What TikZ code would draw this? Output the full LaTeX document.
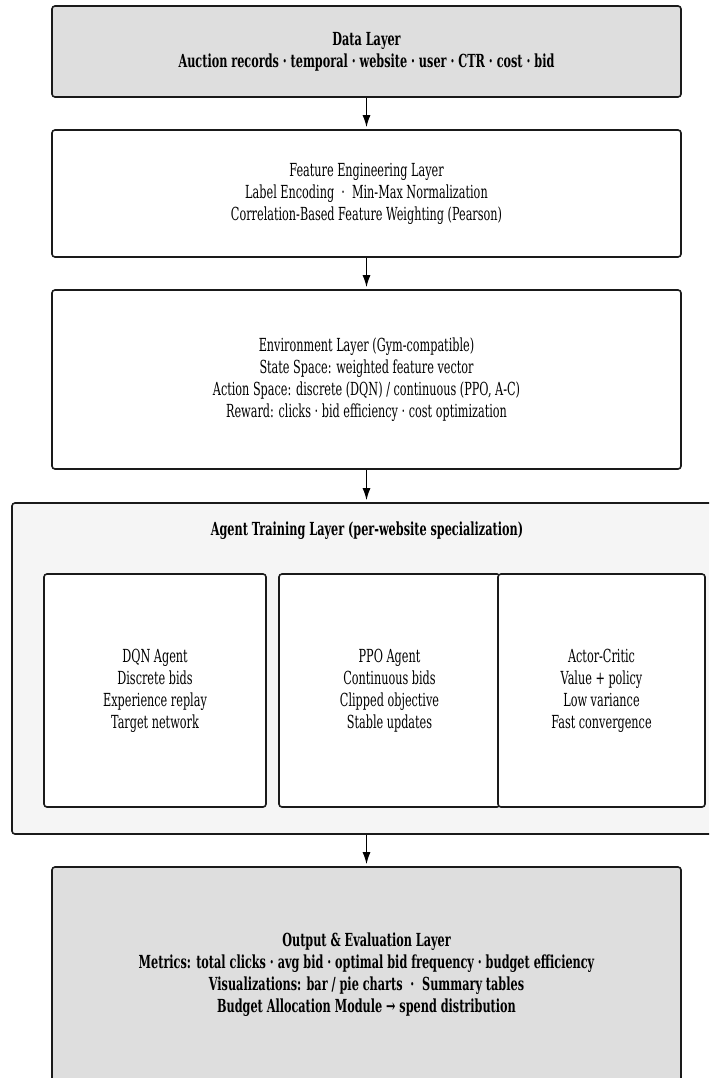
\documentclass[tikz,border=0pt]{standalone}
\usepackage{fontspec}
\setmainfont{DejaVu Serif}[FakeStretch=0.625]
\usepackage{xcolor}
\usepackage{tikz}
\usetikzlibrary{arrows.meta,positioning}
\definecolor{layergray}{HTML}{DEDEDE}
\definecolor{groupgray}{HTML}{F5F5F5}
\definecolor{edgeline}{HTML}{1A1A1A}
\newcommand{\layerfont}{\fontsize{18}{22}\selectfont}
\tikzset{
  lbox/.style={draw=edgeline,fill=white,rounded corners=3pt,line width=1.6pt,align=center,inner sep=0pt,minimum width=629pt},
  lgray/.style={lbox,fill=layergray,font=\layerfont\bfseries},
  lgroup/.style={draw=edgeline,fill=groupgray,rounded corners=3pt,line width=1.6pt,inner sep=0pt},
  abox/.style={draw=edgeline,fill=white,rounded corners=3pt,line width=1.6pt,align=center,inner sep=0pt,minimum height=233pt},
  larr/.style={-{Latex[length=12pt,width=8pt]},line width=1.3pt,draw=black,shorten >=2pt}
}

\begin{document}
\begin{tikzpicture}[x=1pt,y=-1pt,font=\layerfont]
  \useasboundingbox (0,0) rectangle (709,1078);
  \clip (0,0) rectangle (709,1078);
  % layers
  \node[lgray,minimum height=91pt] (data) at (366.5,51.5) {Data Layer\\
    Auction records · temporal · website · user · CTR · cost · bid};
  \node[lbox,minimum height=127pt] (feat) at (366.5,193.5) {Feature Engineering Layer\\
    Label Encoding~~·~~Min-Max Normalization\\
    Correlation-Based Feature Weighting (Pearson)};
  \node[lbox,minimum height=179pt] (env) at (366.5,379.5) {Environment Layer (Gym-compatible)\\
    State Space: weighted feature vector\\
    Action Space: discrete (DQN) / continuous (PPO, A-C)\\
    Reward: clicks · bid efficiency · cost optimization};
  % agent group
  \node[lgroup,minimum width=704pt,minimum height=331pt] (agents) at (364,668.5) {};
  \node[font=\layerfont\bfseries] (agtitle) at (367,531) {Agent Training Layer (per-website specialization)};
  \node[abox,minimum width=222pt] (dqn) at (155,690.5) {DQN Agent\\ Discrete bids\\ Experience replay\\ Target network};
  \node[abox,minimum width=221pt] (ppo) at (389.5,690.5) {PPO Agent\\ Continuous bids\\ Clipped objective\\ Stable updates};
  \node[abox,minimum width=207pt] (ac) at (601.5,690.5) {Actor-Critic\\ Value + policy\\ Low variance\\ Fast convergence};
  \node[lgray,minimum height=216pt] (out) at (366.5,975) {Output \& Evaluation Layer\\
    Metrics: total clicks · avg bid · optimal bid frequency · budget efficiency\\
    Visualizations: bar / pie charts~~·~~Summary tables\\
    Budget Allocation Module → spend distribution};
  % flow
  \draw[larr] (data) -- (feat);
  \draw[larr] (feat) -- (env);
  \draw[larr] (env.south) -- (env.south |- agents.north);
  \draw[larr] (env.south |- agents.south) -- (out);
\end{tikzpicture}
\end{document}
